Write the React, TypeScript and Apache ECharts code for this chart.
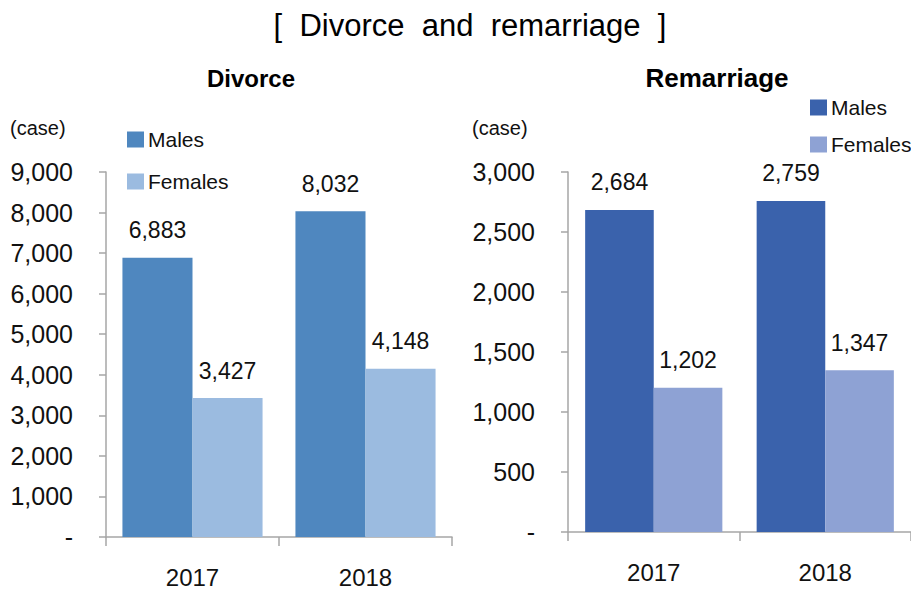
import React, { useEffect, useRef } from "react";
import * as echarts from "echarts";

const years = ["2017", "2018"];
const divorceMales = [6883, 8032];
const divorceFemales = [3427, 4148];
const remarriageMales = [2684, 2759];
const remarriageFemales = [1202, 1347];

const FONT = "'Liberation Sans', Arial, sans-serif";
const fmt = (v: number) => (v === 0 ? "-" : v.toLocaleString("en-US"));

export default function App() {
  const ref = useRef<HTMLDivElement>(null);
  useEffect(() => {
    if (!ref.current) return;
    const chart = echarts.init(ref.current, null, { renderer: "svg" });
    const axisLine = { show: true, lineStyle: { color: "#a6a6a6", width: 1.5 } };
    const yAxisCommon = {
      type: "value" as const,
      axisLine,
      axisTick: { show: true, length: 7, lineStyle: { color: "#a6a6a6", width: 1.5 } },
      splitLine: { show: false },
      axisLabel: { formatter: fmt, fontFamily: FONT, fontSize: 25, color: "#111", margin: 33 },
    };
    const xAxisCommon = {
      type: "category" as const,
      data: years,
      axisLine,
      axisTick: { show: true, length: 9, lineStyle: { color: "#a6a6a6", width: 1.5 } },
      axisLabel: { fontFamily: FONT, fontSize: 24, color: "#111", margin: 28 },
    };
    const label = {
      show: true,
      position: "top" as const,
      distance: 16,
      fontFamily: FONT,
      fontSize: 23,
      color: "#111",
      formatter: (p: any) => fmt(p.value),
    };
    const c = {
      dm: "#4F87BF",
      df: "#9BBBE0",
      rm: "#3A62AC",
      rf: "#8EA2D4",
    };
    chart.setOption({
      animation: false,
      title: [
        {
          text: "[  Divorce  and  remarriage  ]",
          left: 465,
          top: 5,
          textAlign: "center",
          textStyle: { fontFamily: FONT, fontSize: 31, fontWeight: "normal", color: "#000" },
        },
        {
          text: "Divorce",
          left: 246,
          top: 61,
          textAlign: "center",
          textStyle: { fontFamily: FONT, fontSize: 24, fontWeight: "bold", color: "#000" },
        },
        {
          text: "Remarriage",
          left: 712,
          top: 60,
          textAlign: "center",
          textStyle: { fontFamily: FONT, fontSize: 26, fontWeight: "bold", color: "#000" },
        },
      ],
      graphic: [
        { type: "text", left: 10, top: 118, style: { text: "(case)", font: `20px ${FONT}`, fill: "#111" } },
        { type: "text", left: 472, top: 118, style: { text: "(case)", font: `20px ${FONT}`, fill: "#111" } },
      ],
      legend: [
        {
          orient: "vertical",
          left: 122,
          top: 124,
          icon: "rect",
          itemWidth: 17,
          itemHeight: 16,
          itemGap: 21,
          textStyle: { fontFamily: FONT, fontSize: 21, color: "#111", padding: [0, 0, 0, -1] },
          data: [
            { name: "Males", itemStyle: { color: c.dm } },
            { name: "Females", itemStyle: { color: c.df } },
          ],
        },
        {
          orient: "vertical",
          left: 805,
          top: 92,
          icon: "rect",
          itemWidth: 17,
          itemHeight: 16,
          itemGap: 16,
          textStyle: { fontFamily: FONT, fontSize: 21, color: "#111", padding: [0, 0, 0, -1] },
          data: [
            { name: "Males", itemStyle: { color: c.rm } },
            { name: "Females", itemStyle: { color: c.rf } },
          ],
        },
      ],
      grid: [
        { left: 106, width: 346, top: 172, bottom: 52, containLabel: false },
        { left: 568, width: 350, top: 172, bottom: 57, containLabel: false },
      ],
      xAxis: [
        { ...xAxisCommon, gridIndex: 0 },
        { ...xAxisCommon, gridIndex: 1 },
      ],
      yAxis: [
        { ...yAxisCommon, gridIndex: 0, min: 0, max: 9000, interval: 1000 },
        { ...yAxisCommon, gridIndex: 1, min: 0, max: 3000, interval: 500 },
      ],
      series: [
        { name: "Males", type: "bar", xAxisIndex: 0, yAxisIndex: 0, data: divorceMales, itemStyle: { color: c.dm }, barGap: "0%", barCategoryGap: "19%", label },
        { name: "Females", type: "bar", xAxisIndex: 0, yAxisIndex: 0, data: divorceFemales, itemStyle: { color: c.df }, barGap: "0%", barCategoryGap: "19%", label },
        { name: "Males", type: "bar", xAxisIndex: 1, yAxisIndex: 1, data: remarriageMales, itemStyle: { color: c.rm }, barGap: "0%", barCategoryGap: "20%", label },
        { name: "Females", type: "bar", xAxisIndex: 1, yAxisIndex: 1, data: remarriageFemales, itemStyle: { color: c.rf }, barGap: "0%", barCategoryGap: "20%", label },
      ],
    });
    return () => chart.dispose();
  }, []);
  return <div ref={ref} style={{ position: "fixed", left: 0, top: 0, width: 911, height: 589, background: "#fff" }} />;
}
